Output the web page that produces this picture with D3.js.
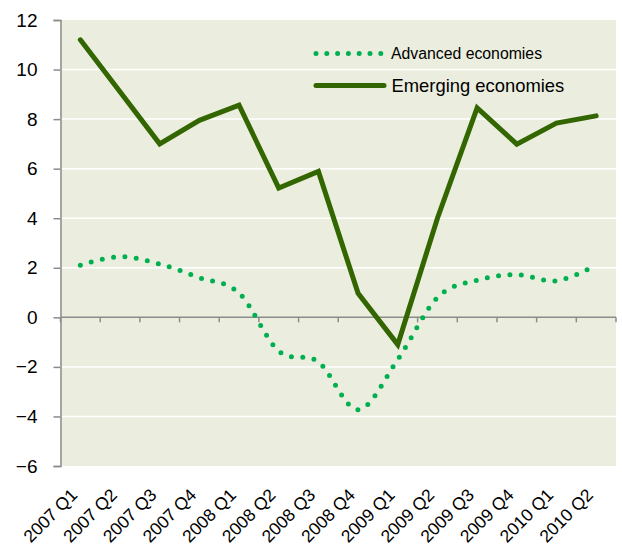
<!DOCTYPE html>
<html>
<head>
<meta charset="utf-8">
<script src="https://cdn.jsdelivr.net/npm/d3@7"></script>
<style>
  html, body { margin: 0; padding: 0; background: #ffffff; }
  svg { display: block; font-family: "Liberation Sans", Arial, sans-serif; }
</style>
</head>
<body>
<svg id="chart" width="622" height="552"></svg>
<script>
// Quarterly GDP growth, % (annualised)
const quarters = ["2007 Q1", "2007 Q2", "2007 Q3", "2007 Q4", "2008 Q1", "2008 Q2", "2008 Q3",
                  "2008 Q4", "2009 Q1", "2009 Q2", "2009 Q3", "2009 Q4", "2010 Q1", "2010 Q2"];
const advanced = [2.1, 2.45, 2.15, 1.6, 0.98, -1.36, -1.8, -3.73, -1.7, 0.8, 1.5, 1.72, 1.47, 2.1];
const emerging = [11.2, 9.1, 7.0, 7.95, 8.56, 5.22, 5.89, 0.97, -1.1, 4.0, 8.45, 6.99, 7.84, 8.13];
const yTicks = [-6, -4, -2, 0, 2, 4, 6, 8, 10, 12];
const seriesNames = ["Advanced economies", "Emerging economies"];

const svg = d3.select("#chart");
const plot = { left: 60.5, right: 616, top: 20, bottom: 466 };

const x = d3.scaleBand().domain(quarters).range([plot.left, plot.right]).padding(0);
const cx = q => x(q) + x.bandwidth() / 2;
const y = d3.scaleLinear().domain([-6, 12]).range([plot.bottom, plot.top]);

const axisGrey = "#8c8c8c";
const advColor = "#00b050";
const emColor = "#336600";

// plot background
svg.append("rect")
  .attr("x", plot.left).attr("y", plot.top)
  .attr("width", plot.right - plot.left).attr("height", plot.bottom - plot.top)
  .attr("fill", "#ebeede");

// horizontal gridlines
svg.append("g")
  .selectAll("line")
  .data(yTicks.filter(v => v !== 0 && v !== -6 && v !== 12))
  .join("line")
  .attr("x1", plot.left).attr("x2", plot.right)
  .attr("y1", d => y(d)).attr("y2", d => y(d))
  .attr("stroke", "#ffffff").attr("stroke-width", 1.5);

// y axis
const yAxis = svg.append("g")
  .attr("transform", `translate(${plot.left},0)`)
  .call(d3.axisLeft(y).tickValues(yTicks).tickSize(7).tickPadding(16).tickFormat(d3.format("d")));
yAxis.select(".domain").attr("stroke", axisGrey).attr("stroke-width", 1.5);
yAxis.selectAll(".tick line").attr("stroke", axisGrey).attr("stroke-width", 1.5);
yAxis.selectAll(".tick text")
  .attr("fill", "#000").style("font-size", "19px")
  .style("font-family", "'Liberation Sans', Arial, sans-serif");

// x axis line at zero with ticks on category boundaries
const edges = quarters.map(q => x(q)).concat([x(quarters[quarters.length - 1]) + x.bandwidth()]);
const xAxis = svg.append("g");
xAxis.append("line")
  .attr("x1", plot.left).attr("x2", plot.right)
  .attr("y1", y(0)).attr("y2", y(0))
  .attr("stroke", axisGrey).attr("stroke-width", 1.5);
xAxis.selectAll("line.tk")
  .data(edges)
  .join("line").attr("class", "tk")
  .attr("x1", d => d).attr("x2", d => d)
  .attr("y1", y(0)).attr("y2", y(0) + 5)
  .attr("stroke", axisGrey).attr("stroke-width", 1.5);

// rotated category labels below the plot
svg.append("g")
  .selectAll("text")
  .data(quarters)
  .join("text")
  .attr("transform", d => `translate(${cx(d) - 2},${plot.bottom + 30}) rotate(-45)`)
  .attr("text-anchor", "end")
  .style("font-size", "17.5px")
  .attr("fill", "#000")
  .text(d => d);

// advanced economies: smoothed dotted line
const advLine = d3.line()
  .x((d, i) => cx(quarters[i]))
  .y(d => y(d))
  .curve(d3.curveCardinal.tension(0));
svg.append("path")
  .datum(advanced)
  .attr("d", advLine)
  .attr("fill", "none")
  .attr("stroke", advColor)
  .attr("stroke-width", 5)
  .attr("stroke-linecap", "round")
  .attr("stroke-dasharray", "0 11.4");

// emerging economies: solid line
const emLine = d3.line()
  .x((d, i) => cx(quarters[i]))
  .y(d => y(d));
svg.append("path")
  .datum(emerging)
  .attr("d", emLine)
  .attr("fill", "none")
  .attr("stroke", emColor)
  .attr("stroke-width", 5)
  .attr("stroke-linejoin", "miter")
  .attr("stroke-linecap", "round");

// legend
const legend = svg.append("g");
legend.append("line")
  .attr("x1", 316).attr("x2", 381).attr("y1", 53.5).attr("y2", 53.5)
  .attr("stroke", advColor).attr("stroke-width", 5)
  .attr("stroke-linecap", "round").attr("stroke-dasharray", "0 10.8");
legend.append("text")
  .attr("x", 391).attr("y", 59)
  .style("font-size", "15.8px").attr("fill", "#000")
  .text(seriesNames[0]);
legend.append("line")
  .attr("x1", 316).attr("x2", 384).attr("y1", 85.5).attr("y2", 85.5)
  .attr("stroke", emColor).attr("stroke-width", 5)
  .attr("stroke-linecap", "round");
legend.append("text")
  .attr("x", 391.5).attr("y", 91.7)
  .style("font-size", "18.4px").attr("fill", "#000")
  .text(seriesNames[1]);
</script>
</body>
</html>
